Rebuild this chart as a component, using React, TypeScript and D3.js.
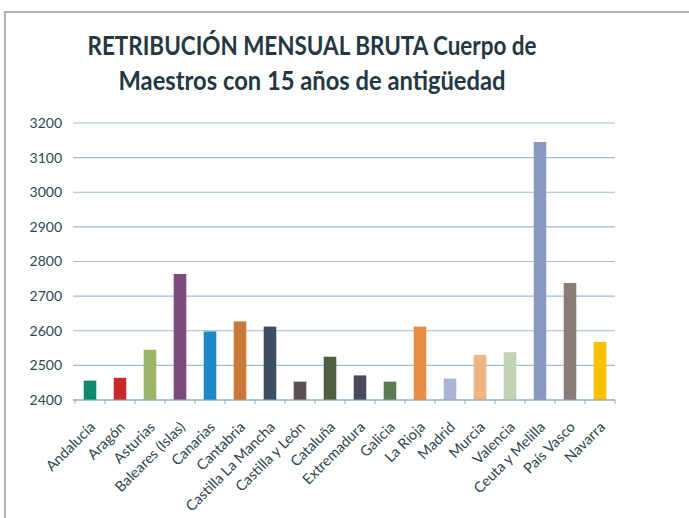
import React from "react";
import * as d3 from "d3";

// Chart data
const categories = [
  "Andalucía",
  "Aragón",
  "Asturias",
  "Baleares (Islas)",
  "Canarias",
  "Cantabria",
  "Castilla La Mancha",
  "Castilla y León",
  "Cataluña",
  "Extremadura",
  "Galicia",
  "La Rioja",
  "Madrid",
  "Murcia",
  "Valencia",
  "Ceuta y Melilla",
  "País Vasco",
  "Navarra",
];

const salaries = [
  2456, 2464, 2545, 2764, 2598, 2627, 2612, 2453, 2525, 2471, 2453, 2612,
  2462, 2530, 2538, 3145, 2738, 2568,
];

const yTicks = [2400, 2500, 2600, 2700, 2800, 2900, 3000, 3100, 3200];

const titleLines = [
  "RETRIBUCIÓN MENSUAL BRUTA Cuerpo de",
  "Maestros con 15 años de antigüedad",
];

// one colour per bar, in category order
const barColors = [
  "#0f8a6c",
  "#c8282e",
  "#9bb468",
  "#7c4a7c",
  "#1c88c8",
  "#c97a3a",
  "#3d4d66",
  "#5b5050",
  "#4f5f40",
  "#4b4b5b",
  "#5c7a50",
  "#e98c42",
  "#aab4d2",
  "#f0b383",
  "#c2d2b2",
  "#8898c2",
  "#8a7b79",
  "#f7c000",
];

const W = 689;
const H = 518;
const plot = { left: 75, right: 615, top: 123, bottom: 400 };
const textColor = "#2f4650";
const font = "Lato, 'Open Sans', sans-serif";

const App = () => {
  const x = d3
    .scaleBand<string>()
    .domain(categories)
    .range([plot.left, plot.right])
    .paddingInner(0.58)
    .paddingOuter(0.29);

  const y = d3
    .scaleLinear()
    .domain([2400, 3200])
    .range([plot.bottom, plot.top]);

  const step = x.step();
  // tick marks sit on band boundaries, both ends included
  const boundaries = d3.range(categories.length + 1).map((i) => plot.left + i * step);

  return (
    <svg
      width={W}
      height={H}
      style={{ position: "absolute", left: 0, top: 0, background: "#fff" }}
    >
      {/* outer frame */}
      <path d={`M5,${H} L5,12 L${W},12`} fill="none" stroke="#9c9c9c" strokeWidth={1.5} />

      {/* title */}
      {titleLines.map((t, i) => (
        <text
          key={t}
          x={312}
          y={55 + i * 35}
          textAnchor="middle"
          fontFamily={font}
          fontWeight="bold"
          fontSize={26}
          fill="#243843"
          textLength={i === 0 ? 449 : 387}
          lengthAdjust="spacingAndGlyphs"
        >
          {t}
        </text>
      ))}

      {/* gridlines */}
      {yTicks.map((t) => (
        <line
          key={t}
          x1={plot.left - 2}
          x2={plot.right}
          y1={y(t)}
          y2={y(t)}
          stroke="#9dbdd8"
          strokeWidth={1.2}
        />
      ))}

      {/* y tick labels */}
      {yTicks.map((t) => (
        <text
          key={"l" + t}
          x={62}
          y={y(t)}
          dy="0.35em"
          textAnchor="end"
          fontFamily={font}
          fontSize={14}
          fill={textColor}
        >
          {t}
        </text>
      ))}

      {/* bars */}
      {categories.map((c, i) => (
        <rect
          key={c}
          x={x(c)}
          y={y(salaries[i])}
          width={x.bandwidth()}
          height={y(2400) - y(salaries[i])}
          fill={barColors[i]}
        />
      ))}

      {/* x axis */}
      <line
        x1={plot.left - 2}
        x2={plot.right}
        y1={plot.bottom}
        y2={plot.bottom}
        stroke="#8aa7c6"
        strokeWidth={1.2}
      />
      {boundaries.map((bx, i) => (
        <line
          key={"t" + i}
          x1={bx}
          x2={bx}
          y1={plot.bottom}
          y2={plot.bottom + 4}
          stroke="#8aa7c6"
          strokeWidth={1}
        />
      ))}

      {/* rotated category labels */}
      {categories.map((c) => {
        const cx = (x(c) as number) + x.bandwidth() / 2;
        return (
          <text
            key={"c" + c}
            transform={`translate(${cx + 6},${plot.bottom + 28}) rotate(-45)`}
            textAnchor="end"
            fontFamily={font}
            fontSize={14.5}
            fill={textColor}
          >
            {c}
          </text>
        );
      })}
    </svg>
  );
};

export default App;
